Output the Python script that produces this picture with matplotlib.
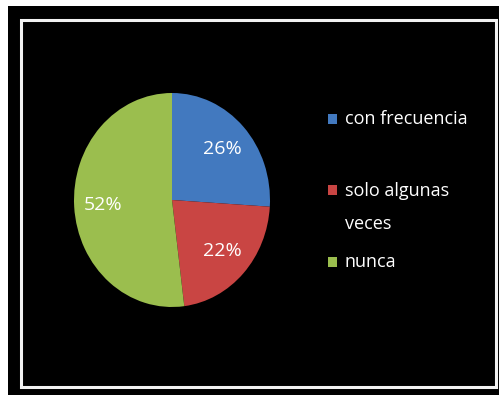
import matplotlib
matplotlib.use("Agg")
import matplotlib.pyplot as plt
from matplotlib.patches import Rectangle

categorias = ["con frecuencia", "solo algunas\nveces", "nunca"]
valores = [26, 22, 52]
colores = ["#4279BF", "#C94543", "#9BBE4E"]

W, H = 503, 395
fig = plt.figure(figsize=(W / 100, H / 100), dpi=100)
fig.patch.set_facecolor("white")

def px(x, y):
    return x / W, 1 - y / H

# fondo negro y marco blanco
x0, y0 = px(8, 395)
x1, y1 = px(499, 6)
fig.patches.append(Rectangle((x0, y0), x1 - x0, y1 - y0, transform=fig.transFigure,
                             facecolor="black", edgecolor="none", zorder=0))
x0, y0 = px(21, 387)
x1, y1 = px(495.5, 20)
fig.patches.append(Rectangle((x0, y0), x1 - x0, y1 - y0, transform=fig.transFigure,
                             facecolor="none", edgecolor="#f2f2f2", linewidth=2.2, zorder=1))

# pastel
ax = fig.add_axes([74 / W, 1 - 307 / H, 196 / W, 214 / H])
ax.set_zorder(2)
ax.patch.set_visible(False)
ax.pie(valores, colors=colores, startangle=90, counterclock=False,
       autopct="%1.0f%%", pctdistance=0.7, radius=1,
       textprops=dict(color="white", fontsize=14, family="Open Sans"))
ax.set_aspect("auto")
ax.set_xlim(-1, 1)
ax.set_ylim(-1, 1)
ax.axis("off")

# leyenda
ys = [119, 190, 262]
for cat, col, y in zip(categorias, colores, ys):
    sx, sy = px(328, y + 5)
    fig.patches.append(Rectangle((sx, sy), 9 / W, 10 / H, transform=fig.transFigure,
                                 facecolor=col, edgecolor="none", zorder=3))
    if "\n" in cat:
        tx, ty = px(345, y - 8)
        fig.text(tx, ty, cat, color="white", fontsize=13, family="Open Sans",
                 va="top", linespacing=2.05, zorder=4)
    else:
        tx, ty = px(345, y)
        fig.text(tx, ty, cat, color="white", fontsize=13, family="Open Sans",
                 va="center", zorder=4)

fig.savefig("out.png", dpi=100, facecolor="white")
